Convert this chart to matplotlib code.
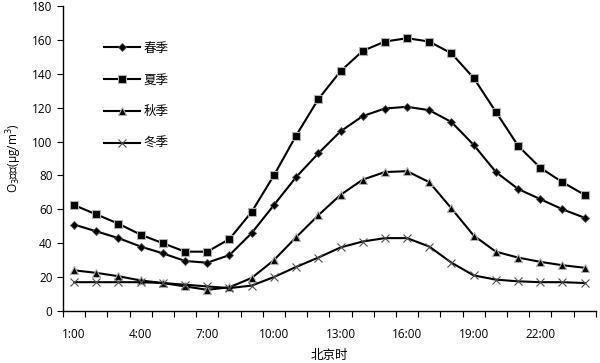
import matplotlib

matplotlib.use("Agg")
import matplotlib.pyplot as plt
from matplotlib.ticker import FixedLocator

plt.rcParams["font.family"] = ["Open Sans", "Noto Sans CJK SC", "DejaVu Sans"]
plt.rcParams["mathtext.fontset"] = "dejavusans"

hours = [f"{h}:00" for h in range(1, 25)]
spring = [51, 47, 43, 38, 34, 29.5, 28.5, 33, 46, 62.5, 79, 93, 106, 115,
          119.5, 120.5, 118.5, 111.5, 98, 82, 72, 66, 60, 55]
summer = [62.5, 57, 51.5, 45, 40, 35, 35, 42.5, 58.5, 80, 103.5, 125, 141.5,
          153.5, 159, 161, 159, 152, 137.5, 117.5, 97.5, 84.5, 76, 68.5]
autumn = [24, 22.5, 20.5, 18, 16.5, 14.5, 12.5, 14, 19.5, 30, 43.5, 56.5,
          68.5, 77.5, 82, 82.5, 76, 60.5, 44.5, 35, 31.5, 29, 27, 25.5]
winter = [17, 17, 17, 17, 16.5, 15.5, 14.5, 13.5, 15, 20, 26, 31.5, 37.5,
          41, 43, 43, 38, 28.5, 21, 18.5, 17.5, 17, 17, 16.5]
labels = ["春季", "夏季", "秋季", "冬季"]

fig = plt.figure(figsize=(6, 3.63), dpi=100)
ax = fig.add_axes([0.105, 0.1433, 0.888, 0.8402])

x = list(range(len(hours)))
ax.plot(x, spring, "-D", color="black", lw=1.5, ms=4, mec="#555555", mew=0.6, label=labels[0])
ax.plot(x, summer, "-s", color="black", lw=1.5, ms=6, mec="#b0b0b0", mew=0.8, label=labels[1])
ax.plot(x, autumn, "-^", color="black", lw=1.5, ms=6, mec="#b0b0b0", mew=0.8, label=labels[2])
ax.plot(x, winter, "-x", color="black", lw=1.5, ms=6, mec="#505050", mew=0.8, label=labels[3])

ax.set_xlim(-0.5, len(hours) - 0.5)
ax.set_ylim(0, 180)
ax.set_yticks(range(0, 181, 20))
ax.set_xticks(x[::3])
ax.set_xticklabels(hours[::3])
ax.xaxis.set_minor_locator(FixedLocator([i - 0.5 for i in range(len(hours) + 1)]))
ax.tick_params(axis="x", which="major", length=0, pad=12, labelsize=8.5)
ax.tick_params(axis="x", which="minor", length=4, width=0.8, direction="out")
ax.tick_params(axis="y", length=4, width=0.8, labelsize=8.5)
for s in ["top", "right"]:
    ax.spines[s].set_visible(False)
for s in ["left", "bottom"]:
    ax.spines[s].set_linewidth(1.0)

ax.set_ylabel("O$_3$浓度(μg/m$^3$)", fontsize=8.5, labelpad=6)
ax.set_xlabel("北京时", fontsize=9)
ax.xaxis.set_label_coords(0.5, -0.125)

leg = ax.legend(loc="upper left", bbox_to_anchor=(0.055, 0.92), frameon=False,
                handlelength=2.9, handletextpad=0.3, labelspacing=1.5,
                fontsize=9)

fig.savefig("out.png", dpi=100)
